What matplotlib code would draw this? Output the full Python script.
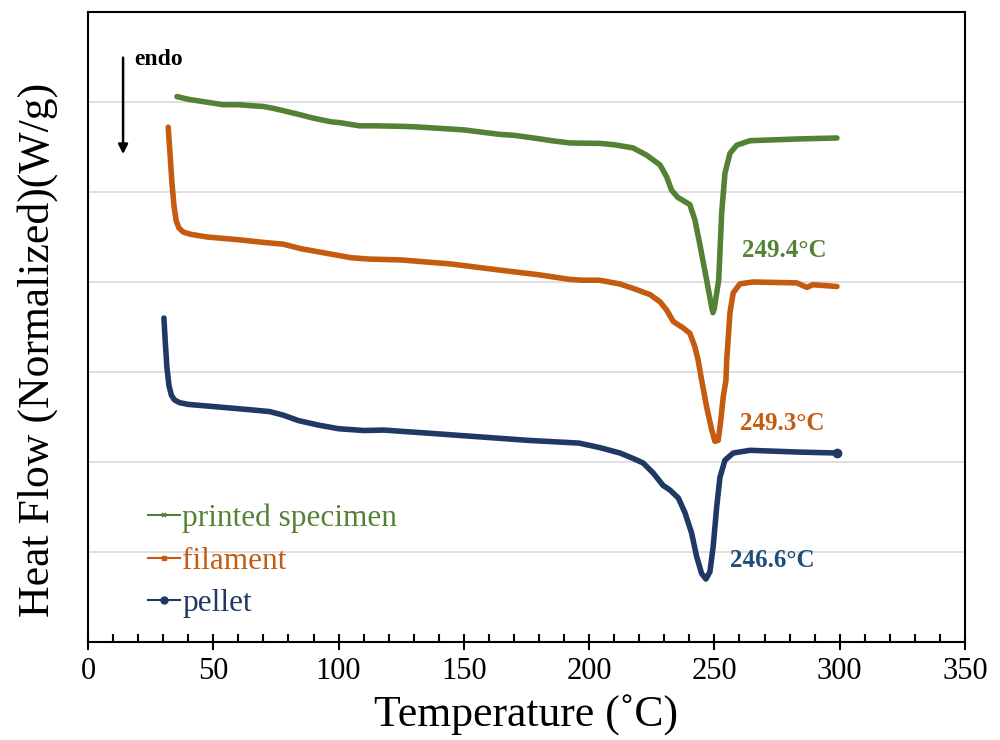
import matplotlib
matplotlib.use("Agg")
import matplotlib.pyplot as plt
from matplotlib.ticker import MultipleLocator
from matplotlib.lines import Line2D

plt.rcParams['font.family'] = ['Liberation Serif', 'DejaVu Serif']

# ---- data ----
printed_T = [35.5, 40.0, 47.0, 53.9, 60.0, 64.6, 70.0, 73.8, 77.0, 83.0, 88.6, 90.0, 97.0,
             100.6, 105.0, 108.5, 115.0, 124.5, 130.0, 144.5, 150.0, 164.4, 170.0, 180.4,
             185.0, 192.3, 204.3, 210.0, 217.5, 222.9, 228.3, 230.9, 232.9, 235.4, 239.0,
             240.2, 242.2, 244.1, 246.9, 248.9, 249.4, 249.9, 251.7, 252.9, 254.2, 256.2,
             258.9, 264.2, 284.1, 298.9]
printed_HF = [6.06, 6.03, 6.00, 5.97, 5.97, 5.96, 5.95, 5.93, 5.91, 5.87, 5.83, 5.82, 5.78,
              5.77, 5.75, 5.735, 5.735, 5.73, 5.725, 5.70, 5.69, 5.64, 5.63, 5.59,
              5.57, 5.545, 5.54, 5.525, 5.49, 5.41, 5.30, 5.17, 5.02, 4.94, 4.88,
              4.86, 4.69, 4.43, 4.02, 3.72, 3.66, 3.70, 4.02, 4.77, 5.21, 5.43,
              5.52, 5.57, 5.59, 5.60]

filament_T = [32.0, 32.8, 33.5, 34.3, 35.2, 36.3, 38.0, 41.0, 47.5, 60.0, 70.0, 78.0, 85.0,
              95.0, 105.0, 112.0, 125.0, 145.0, 165.0, 180.0, 192.0, 197.0, 204.0, 212.0,
              217.5, 224.3, 228.3, 230.9, 233.6, 237.5, 240.2, 242.2, 243.5, 244.9, 246.9,
              248.9, 250.2, 251.5, 252.4, 253.5, 254.6, 254.9, 256.2, 257.5, 260.2, 265.4,
              282.9, 286.9, 289.3, 298.9]
filament_HF = [5.72, 5.40, 5.10, 4.85, 4.68, 4.60, 4.555, 4.53, 4.50, 4.47, 4.44, 4.42, 4.37,
               4.32, 4.27, 4.255, 4.245, 4.20, 4.13, 4.08, 4.03, 4.02, 4.02, 3.98,
               3.93, 3.86, 3.78, 3.69, 3.56, 3.49, 3.43, 3.28, 3.13, 2.91, 2.61,
               2.36, 2.23, 2.24, 2.43, 2.72, 2.91, 3.13, 3.66, 3.88, 3.98, 4.00,
               3.99, 3.94, 3.97, 3.95]

pellet_T = [30.3, 30.8, 31.5, 32.3, 33.3, 34.5, 36.5, 40.0, 52.7, 65.0, 72.6, 78.0, 84.0,
            92.0, 100.0, 110.0, 118.0, 136.0, 156.0, 176.0, 196.0, 204.3, 212.3, 217.5,
            221.5, 225.5, 229.5, 232.2, 235.6, 238.2, 240.9, 242.9, 244.9, 246.6, 248.2,
            249.5, 250.9, 252.2, 254.2, 257.5, 264.2, 284.0, 298.9]
pellet_HF = [3.60, 3.35, 3.05, 2.85, 2.74, 2.69, 2.66, 2.64, 2.61, 2.58, 2.56, 2.52, 2.46,
             2.41, 2.37, 2.35, 2.355, 2.32, 2.28, 2.24, 2.21, 2.16, 2.10, 2.04,
             1.99, 1.88, 1.74, 1.69, 1.60, 1.44, 1.21, 0.95, 0.76, 0.70, 0.78,
             1.06, 1.50, 1.83, 2.02, 2.10, 2.13, 2.11, 2.10]

series_names = ["printed specimen", "filament", "pellet"]
peak_labels = ["249.4°C", "249.3°C", "246.6°C"]
x_ticks = [0, 50, 100, 150, 200, 250, 300, 350]

green = "#548235"
orange = "#C55A11"
navy = "#1F3864"
label_blue = "#1F4E79"

fig = plt.figure(figsize=(10, 7.4), dpi=100)
ax = fig.add_axes([0.088, 0.1324, 0.877, 0.8514])

line_kw = dict(lw=4.0, solid_joinstyle='round', solid_capstyle='round')
ax.plot(printed_T, printed_HF, color=green, **line_kw)
ax.plot(filament_T, filament_HF, color=orange, **line_kw)
ax.plot(pellet_T, pellet_HF, color=navy, **line_kw)
ax.plot(pellet_T[-1:], pellet_HF[-1:], 'o', color=navy, ms=6)

ax.set_xlim(0, 350)
ax.set_ylim(0, 7)
ax.set_xticks(x_ticks)
ax.xaxis.set_minor_locator(MultipleLocator(10))
ax.tick_params(axis='x', which='major', direction='inout', length=12, width=1.5,
               labelsize=22, pad=5)
ax.tick_params(axis='x', which='minor', direction='in', length=6, width=1.5)
ax.yaxis.set_major_locator(MultipleLocator(1))
ax.tick_params(axis='y', which='both', length=0, labelleft=False)
ax.grid(axis='y', color='#d9d9d9', lw=1.2)
ax.set_axisbelow(True)
for s in ax.spines.values():
    s.set_linewidth(1.5)
    s.set_color('black')

ax.set_xlabel("Temperature (˚C)", fontsize=31.5, labelpad=6)
ax.set_ylabel("Heat Flow (Normalized)(W/g)", fontsize=31.5)
ax.yaxis.set_label_coords(-0.034, 0.463)

# peak annotations
ax.text(0.746, 0.622, peak_labels[0], transform=ax.transAxes, color=green,
        fontsize=18, fontweight='bold', ha='left', va='center')
ax.text(0.744, 0.347, peak_labels[1], transform=ax.transAxes, color=orange,
        fontsize=18, fontweight='bold', ha='left', va='center')
ax.text(0.732, 0.130, peak_labels[2], transform=ax.transAxes, color=label_blue,
        fontsize=18, fontweight='bold', ha='left', va='center')

# endo arrow
ax.annotate("", xy=(0.04, 0.770), xytext=(0.04, 0.932), xycoords='axes fraction',
            arrowprops=dict(arrowstyle='-|>', color='black', lw=1.8, mutation_scale=14))
ax.text(0.053, 0.925, "endo", transform=ax.transAxes, fontsize=17, fontweight='bold',
        ha='left', va='center')

handles = [
    Line2D([], [], color=green, lw=1.5, marker='x', ms=3, mew=1.2),
    Line2D([], [], color=orange, lw=1.5, marker='s', ms=3),
    Line2D([], [], color=navy, lw=1.5, marker='o', ms=5),
]
leg = ax.legend(handles, series_names, loc='lower left', bbox_to_anchor=(0.068, 0.038),
                frameon=False, fontsize=22.5, handlelength=1.05, handletextpad=0.05,
                labelspacing=0.43, numpoints=1, borderaxespad=0, borderpad=0)
for txt, c in zip(leg.get_texts(), [green, orange, navy]):
    txt.set_color(c)

fig.savefig("out.png", dpi=100)
